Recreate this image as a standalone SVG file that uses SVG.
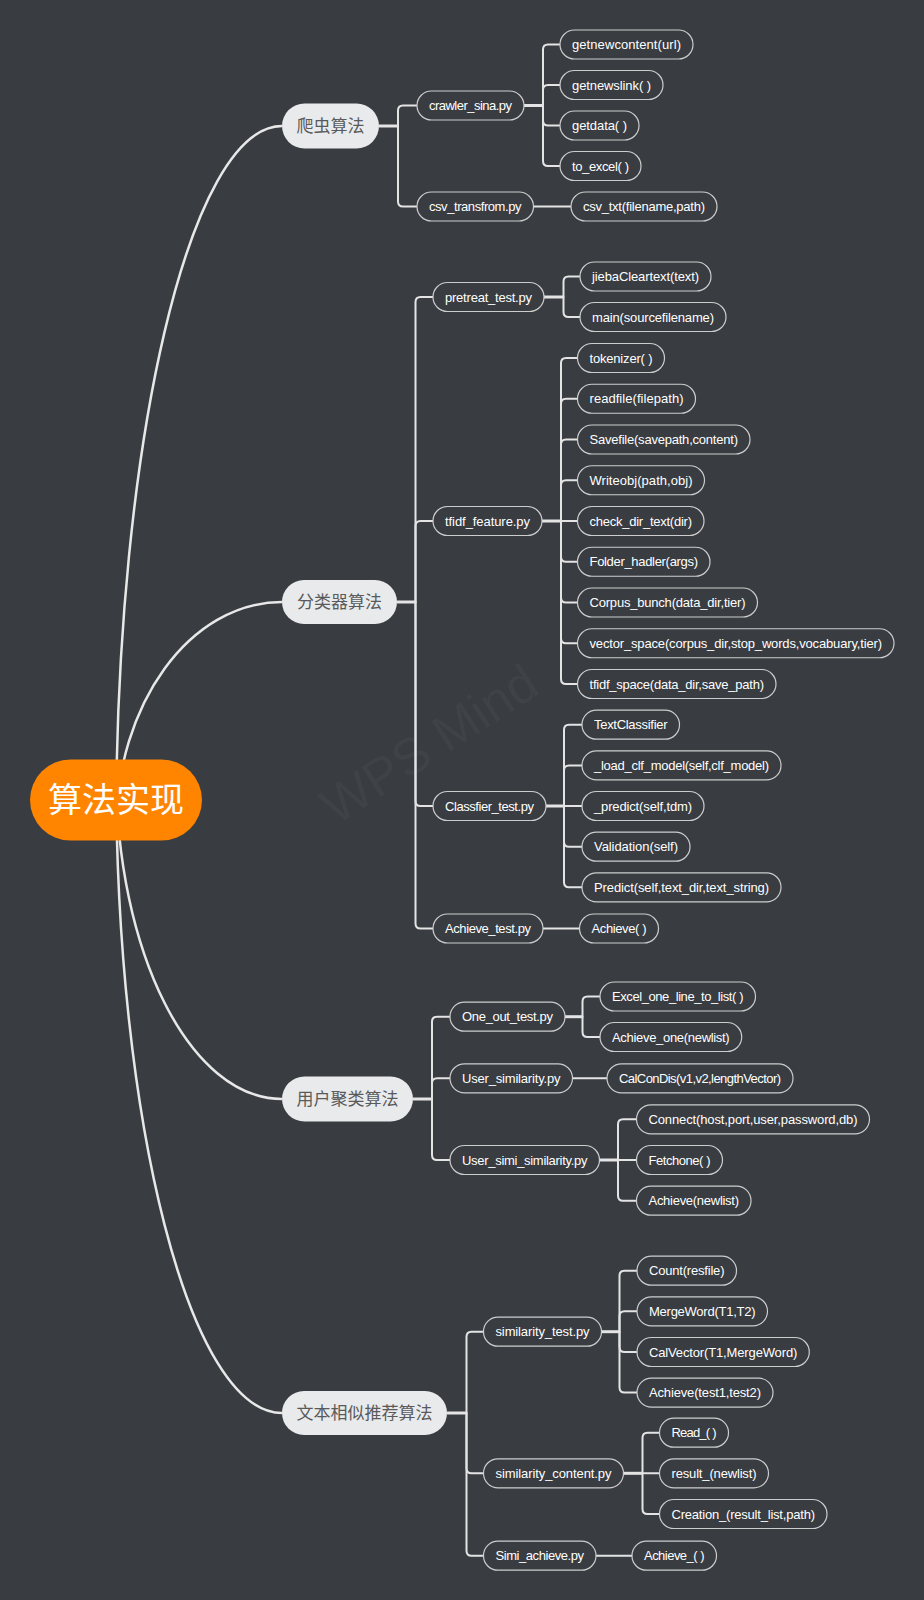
<svg xmlns="http://www.w3.org/2000/svg" width="924" height="1600" viewBox="0 0 924 1600">
<style>
.bg{fill:#393c41}
.c{fill:none;stroke:#e4e4e4;stroke-width:2;stroke-linecap:round}
.ct{fill:none;stroke:#e4e4e4;stroke-width:3}
.cr{fill:none;stroke:#e8e8e8;stroke-width:2.5}
.n rect{fill:#393c41;stroke:#cdcdcd;stroke-width:1.2}
.n text{font-family:"Liberation Sans",Arial,sans-serif;font-size:13px;fill:#ffffff}
.l1 rect{fill:#e9eaec}
.l1 text{font-family:"Noto Sans CJK SC",sans-serif;font-size:17px;fill:#5a5a5a;text-anchor:middle}
.wm{font-family:"Liberation Sans",Arial,sans-serif;fill:#3f4247}
</style>
<rect class="bg" x="0" y="0" width="924" height="1600"/>
<text class="wm" font-size="52" transform="translate(336,826) rotate(-33)">WPS Mind</text>
<g id="connectors">
<path class="cr" d="M116,830 C116,441 190,126 282,126"/>
<path class="cr" d="M116,830 C116,704 190,602 282,602"/>
<path class="cr" d="M116,770 C116,952 190,1099 282,1099"/>
<path class="cr" d="M116,770 C116,1125 190,1413 282,1413"/>
<path class="ct" d="M379,126 H398"/>
<path class="c" d="M398,126 V110.5 Q398,105.5 403,105.5 H417"/>
<path class="c" d="M398,126 V201.5 Q398,206.5 403,206.5 H417"/>
<path class="ct" d="M524,105.5 H543"/>
<path class="c" d="M543,105.5 V49.5 Q543,44.5 548,44.5 H560"/>
<path class="c" d="M543,105.5 V90 Q543,85 548,85 H560"/>
<path class="c" d="M543,105.5 V120.5 Q543,125.5 548,125.5 H560"/>
<path class="c" d="M543,105.5 V161 Q543,166 548,166 H560"/>
<path class="c" d="M533.5,206.5 H571"/>
<path class="ct" d="M397,602 H415.5"/>
<path class="c" d="M415.5,602 V302 Q415.5,297 420.5,297 H433"/>
<path class="c" d="M415.5,602 V526 Q415.5,521 420.5,521 H433"/>
<path class="c" d="M415.5,602 V801 Q415.5,806 420.5,806 H433"/>
<path class="c" d="M415.5,602 V923.5 Q415.5,928.5 420.5,928.5 H433"/>
<path class="ct" d="M544,297 H563.5"/>
<path class="c" d="M563.5,297 V281.5 Q563.5,276.5 568.5,276.5 H580"/>
<path class="c" d="M563.5,297 V312 Q563.5,317 568.5,317 H580"/>
<path class="ct" d="M542,521 H561"/>
<path class="c" d="M561,521 V363 Q561,358 566,358 H577.5"/>
<path class="c" d="M561,521 V403.75 Q561,398.75 566,398.75 H577.5"/>
<path class="c" d="M561,521 V444.5 Q561,439.5 566,439.5 H577.5"/>
<path class="c" d="M561,521 V485.25 Q561,480.25 566,480.25 H577.5"/>
<path class="c" d="M561,521 H577.5"/>
<path class="c" d="M561,521 V556.75 Q561,561.75 566,561.75 H577.5"/>
<path class="c" d="M561,521 V597.5 Q561,602.5 566,602.5 H577.5"/>
<path class="c" d="M561,521 V638.25 Q561,643.25 566,643.25 H577.5"/>
<path class="c" d="M561,521 V679 Q561,684 566,684 H577.5"/>
<path class="ct" d="M546,806 H564"/>
<path class="c" d="M564,806 V729.7 Q564,724.7 569,724.7 H582"/>
<path class="c" d="M564,806 V770.4 Q564,765.4 569,765.4 H582"/>
<path class="c" d="M564,806 H582"/>
<path class="c" d="M564,806 V841.7 Q564,846.7 569,846.7 H582"/>
<path class="c" d="M564,806 V882.3 Q564,887.3 569,887.3 H582"/>
<path class="c" d="M543,928.5 H579.5"/>
<path class="ct" d="M413,1099 H432"/>
<path class="c" d="M432,1099 V1021.7 Q432,1016.7 437,1016.7 H450"/>
<path class="c" d="M432,1099 V1083.3 Q432,1078.3 437,1078.3 H450"/>
<path class="c" d="M432,1099 V1155 Q432,1160 437,1160 H450"/>
<path class="ct" d="M565,1016.7 H582.5"/>
<path class="c" d="M582.5,1016.7 V1001.5 Q582.5,996.5 587.5,996.5 H600"/>
<path class="c" d="M582.5,1016.7 V1032 Q582.5,1037 587.5,1037 H600"/>
<path class="c" d="M572.5,1078.3 H607"/>
<path class="ct" d="M599.5,1160 H618"/>
<path class="c" d="M618,1160 V1124.3 Q618,1119.3 623,1119.3 H636.5"/>
<path class="c" d="M618,1160 H636.5"/>
<path class="c" d="M618,1160 V1195.7 Q618,1200.7 623,1200.7 H636.5"/>
<path class="ct" d="M447,1413 H466.5"/>
<path class="c" d="M466.5,1413 V1336.7 Q466.5,1331.7 471.5,1331.7 H483.5"/>
<path class="c" d="M466.5,1413 V1468.3 Q466.5,1473.3 471.5,1473.3 H483.5"/>
<path class="c" d="M466.5,1413 V1550.7 Q466.5,1555.7 471.5,1555.7 H483.5"/>
<path class="ct" d="M601.5,1331.7 H619.5"/>
<path class="c" d="M619.5,1331.7 V1275.7 Q619.5,1270.7 624.5,1270.7 H637"/>
<path class="c" d="M619.5,1331.7 V1316.3 Q619.5,1311.3 624.5,1311.3 H637"/>
<path class="c" d="M619.5,1331.7 V1347 Q619.5,1352 624.5,1352 H637"/>
<path class="c" d="M619.5,1331.7 V1387.6 Q619.5,1392.6 624.5,1392.6 H637"/>
<path class="ct" d="M623.5,1473.3 H642.5"/>
<path class="c" d="M642.5,1473.3 V1437.7 Q642.5,1432.7 647.5,1432.7 H659.5"/>
<path class="c" d="M642.5,1473.3 H659.5"/>
<path class="c" d="M642.5,1473.3 V1509 Q642.5,1514 647.5,1514 H659.5"/>
<path class="c" d="M596,1555.7 H632"/>
</g>
<g id="root">
<rect x="30" y="759.5" width="172" height="81" rx="40.5" fill="#ff8500"/>
<text x="116" y="812" font-family="Noto Sans CJK SC, sans-serif" font-size="34" fill="#ffffff" text-anchor="middle">算法实现</text>
</g>
<g id="b1" class="l1"><rect x="282" y="103.5" width="97" height="45" rx="22.5"/><text x="330.5" y="132">爬虫算法</text></g>
<g id="b2" class="l1"><rect x="282" y="580" width="115" height="44" rx="22"/><text x="339.5" y="608">分类器算法</text></g>
<g id="b3" class="l1"><rect x="282" y="1076.5" width="131" height="45" rx="22.5"/><text x="347.5" y="1105">用户聚类算法</text></g>
<g id="b4" class="l1"><rect x="282" y="1391" width="165" height="44" rx="22"/><text x="364.5" y="1419">文本相似推荐算法</text></g>

<g id="crawler" class="n"><rect x="417" y="91" width="107" height="29" rx="14.5"/><text x="429" y="110" textLength="83">crawler_sina.py</text></g>
<g id="getnewcontent" class="n"><rect x="560" y="30" width="133" height="29" rx="14.5"/><text x="572" y="49" textLength="109">getnewcontent(url)</text></g>
<g id="getnewslink" class="n"><rect x="560" y="70.5" width="103" height="29" rx="14.5"/><text x="572" y="89.5" textLength="79">getnewslink( )</text></g>
<g id="getdata" class="n"><rect x="560" y="111" width="79" height="29" rx="14.5"/><text x="572" y="130" textLength="55">getdata( )</text></g>
<g id="to_excel" class="n"><rect x="560" y="151.5" width="81" height="29" rx="14.5"/><text x="572" y="170.5" textLength="57">to_excel( )</text></g>
<g id="csv_transfrom" class="n"><rect x="417" y="192" width="116.5" height="29" rx="14.5"/><text x="429" y="211" textLength="92.5">csv_transfrom.py</text></g>
<g id="csv_txt" class="n"><rect x="571" y="192" width="146" height="29" rx="14.5"/><text x="583" y="211" textLength="122">csv_txt(filename,path)</text></g>

<g id="pretreat" class="n"><rect x="433" y="282.5" width="111" height="29" rx="14.5"/><text x="445" y="301.5" textLength="87">pretreat_test.py</text></g>
<g id="jieba" class="n"><rect x="580" y="262" width="131" height="29" rx="14.5"/><text x="592" y="281" textLength="107">jiebaCleartext(text)</text></g>
<g id="main" class="n"><rect x="580" y="302.5" width="146" height="29" rx="14.5"/><text x="592" y="321.5" textLength="122">main(sourcefilename)</text></g>
<g id="tfidf" class="n"><rect x="433" y="506.5" width="109" height="29" rx="14.5"/><text x="445" y="525.5" textLength="85">tfidf_feature.py</text></g>
<g id="tokenizer" class="n"><rect x="577.5" y="343.5" width="87" height="29" rx="14.5"/><text x="589.5" y="362.5" textLength="63">tokenizer( )</text></g>
<g id="readfile" class="n"><rect x="577.5" y="384.25" width="118" height="29" rx="14.5"/><text x="589.5" y="403.25" textLength="94">readfile(filepath)</text></g>
<g id="savefile" class="n"><rect x="577.5" y="425" width="172.5" height="29" rx="14.5"/><text x="589.5" y="444" textLength="148.5">Savefile(savepath,content)</text></g>
<g id="writeobj" class="n"><rect x="577.5" y="465.75" width="127" height="29" rx="14.5"/><text x="589.5" y="484.75" textLength="103">Writeobj(path,obj)</text></g>
<g id="checkdir" class="n"><rect x="577.5" y="506.5" width="126.5" height="29" rx="14.5"/><text x="589.5" y="525.5" textLength="102.5">check_dir_text(dir)</text></g>
<g id="folder" class="n"><rect x="577.5" y="547.25" width="132.5" height="29" rx="14.5"/><text x="589.5" y="566.25" textLength="108.5">Folder_hadler(args)</text></g>
<g id="corpus" class="n"><rect x="577.5" y="588" width="180" height="29" rx="14.5"/><text x="589.5" y="607" textLength="156">Corpus_bunch(data_dir,tier)</text></g>
<g id="vector" class="n"><rect x="577.5" y="628.75" width="316.5" height="29" rx="14.5"/><text x="589.5" y="647.75" textLength="292.5">vector_space(corpus_dir,stop_words,vocabuary,tier)</text></g>
<g id="tfidfspace" class="n"><rect x="577.5" y="669.5" width="198.5" height="29" rx="14.5"/><text x="589.5" y="688.5" textLength="174.5">tfidf_space(data_dir,save_path)</text></g>
<g id="classfier" class="n"><rect x="433" y="791.5" width="113" height="29" rx="14.5"/><text x="445" y="810.5" textLength="89">Classfier_test.py</text></g>
<g id="textclassifier" class="n"><rect x="582" y="710.2" width="97.5" height="29" rx="14.5"/><text x="594" y="729.2" textLength="73.5">TextClassifier</text></g>
<g id="loadclf" class="n"><rect x="582" y="750.9" width="199" height="29" rx="14.5"/><text x="594" y="769.9" textLength="175">_load_clf_model(self,clf_model)</text></g>
<g id="predict_" class="n"><rect x="582" y="791.5" width="122" height="29" rx="14.5"/><text x="594" y="810.5" textLength="98">_predict(self,tdm)</text></g>
<g id="validation" class="n"><rect x="582" y="832.2" width="108" height="29" rx="14.5"/><text x="594" y="851.2" textLength="84">Validation(self)</text></g>
<g id="predict" class="n"><rect x="582" y="872.8" width="199" height="29" rx="14.5"/><text x="594" y="891.8" textLength="175">Predict(self,text_dir,text_string)</text></g>
<g id="achievetest" class="n"><rect x="433" y="914" width="110" height="29" rx="14.5"/><text x="445" y="933" textLength="86">Achieve_test.py</text></g>
<g id="achieve1" class="n"><rect x="579.5" y="914" width="79" height="29" rx="14.5"/><text x="591.5" y="933" textLength="55">Achieve( )</text></g>

<g id="oneout" class="n"><rect x="450" y="1002.2" width="115" height="29" rx="14.5"/><text x="462" y="1021.2" textLength="91">One_out_test.py</text></g>
<g id="excel" class="n"><rect x="600" y="982" width="155.5" height="29" rx="14.5"/><text x="612" y="1001" textLength="131.5">Excel_one_line_to_list( )</text></g>
<g id="achieveone" class="n"><rect x="600" y="1022.5" width="141.7" height="29" rx="14.5"/><text x="612" y="1041.5" textLength="117.7">Achieve_one(newlist)</text></g>
<g id="usersim" class="n"><rect x="450" y="1063.8" width="122.5" height="29" rx="14.5"/><text x="462" y="1082.8" textLength="98.5">User_similarity.py</text></g>
<g id="calcondis" class="n"><rect x="607" y="1063.8" width="186" height="29" rx="14.5"/><text x="619" y="1082.8" textLength="162">CalConDis(v1,v2,lengthVector)</text></g>
<g id="usersimisim" class="n"><rect x="450" y="1145.5" width="149.5" height="29" rx="14.5"/><text x="462" y="1164.5" textLength="125.5">User_simi_similarity.py</text></g>
<g id="connect" class="n"><rect x="636.5" y="1104.8" width="233" height="29" rx="14.5"/><text x="648.5" y="1123.8" textLength="209">Connect(host,port,user,password,db)</text></g>
<g id="fetchone" class="n"><rect x="636.5" y="1145.5" width="86" height="29" rx="14.5"/><text x="648.5" y="1164.5" textLength="62">Fetchone( )</text></g>
<g id="achievenewlist" class="n"><rect x="636.5" y="1186.2" width="114.5" height="29" rx="14.5"/><text x="648.5" y="1205.2" textLength="90.5">Achieve(newlist)</text></g>

<g id="simtest" class="n"><rect x="483.5" y="1317.2" width="118" height="29" rx="14.5"/><text x="495.5" y="1336.2" textLength="94">similarity_test.py</text></g>
<g id="count" class="n"><rect x="637" y="1256.2" width="99.5" height="29" rx="14.5"/><text x="649" y="1275.2" textLength="75.5">Count(resfile)</text></g>
<g id="mergeword" class="n"><rect x="637" y="1296.8" width="130.5" height="29" rx="14.5"/><text x="649" y="1315.8" textLength="106.5">MergeWord(T1,T2)</text></g>
<g id="calvector" class="n"><rect x="637" y="1337.5" width="172.3" height="29" rx="14.5"/><text x="649" y="1356.5" textLength="148.3">CalVector(T1,MergeWord)</text></g>
<g id="achievetest12" class="n"><rect x="637" y="1378.1" width="136" height="29" rx="14.5"/><text x="649" y="1397.1" textLength="112">Achieve(test1,test2)</text></g>
<g id="simcontent" class="n"><rect x="483.5" y="1458.8" width="140" height="29" rx="14.5"/><text x="495.5" y="1477.8" textLength="116">similarity_content.py</text></g>
<g id="read" class="n"><rect x="659.5" y="1418.2" width="69" height="29" rx="14.5"/><text x="671.5" y="1437.2" textLength="45">Read_( )</text></g>
<g id="result" class="n"><rect x="659.5" y="1458.8" width="109" height="29" rx="14.5"/><text x="671.5" y="1477.8" textLength="85">result_(newlist)</text></g>
<g id="creation" class="n"><rect x="659.5" y="1499.5" width="167.5" height="29" rx="14.5"/><text x="671.5" y="1518.5" textLength="143.5">Creation_(result_list,path)</text></g>
<g id="simiachieve" class="n"><rect x="483.5" y="1541.2" width="112.5" height="29" rx="14.5"/><text x="495.5" y="1560.2" textLength="88.5">Simi_achieve.py</text></g>
<g id="achieve_" class="n"><rect x="632" y="1541.2" width="84.5" height="29" rx="14.5"/><text x="644" y="1560.2" textLength="60.5">Achieve_( )</text></g>
</svg>
